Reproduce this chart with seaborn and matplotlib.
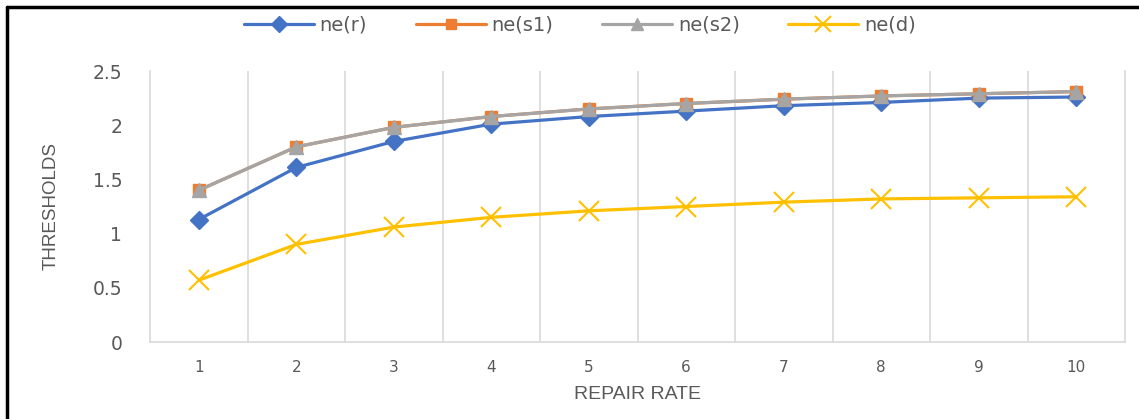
import matplotlib
matplotlib.use("Agg")
import matplotlib.pyplot as plt
from matplotlib.lines import Line2D
import seaborn as sns
import pandas as pd

# Repair rate categories and threshold series
repair_rate = [1, 2, 3, 4, 5, 6, 7, 8, 9, 10]
ne_r = [1.13, 1.61, 1.85, 2.01, 2.08, 2.13, 2.18, 2.21, 2.25, 2.26]
ne_s1 = [1.40, 1.80, 1.98, 2.08, 2.15, 2.20, 2.24, 2.27, 2.29, 2.31]
ne_s2 = [1.40, 1.80, 1.98, 2.08, 2.15, 2.20, 2.24, 2.27, 2.29, 2.31]
ne_d = [0.57, 0.90, 1.06, 1.15, 1.21, 1.25, 1.29, 1.32, 1.33, 1.34]
series_names = ["ne(r)", "ne(s1)", "ne(s2)", "ne(d)"]
y_ticks = [0, 0.5, 1, 1.5, 2, 2.5]
y_tick_labels = ["0", "0.5", "1", "1.5", "2", "2.5"]

df = pd.DataFrame({"rate": repair_rate, "ne(r)": ne_r, "ne(s1)": ne_s1,
                   "ne(s2)": ne_s2, "ne(d)": ne_d})

sns.set_theme(style="white")
plt.rcParams["font.family"] = ["Liberation Sans", "DejaVu Sans"]

styles = {
    "ne(r)": dict(color="#4472C4", marker="D", ms=9, mec="#4472C4", mew=1),
    "ne(s1)": dict(color="#ED7D31", marker="s", ms=9, mec="#ED7D31", mew=1),
    "ne(s2)": dict(color="#A5A5A5", marker="^", ms=10, mec="#A5A5A5", mew=1),
    "ne(d)": dict(color="#FFC000", marker="x", ms=14, mec="#FFC000", mew=1.5),
}

fig = plt.figure(figsize=(11.39, 4.19), dpi=100)
ax = fig.add_axes([150 / 1139, 1 - 342 / 419, (1125 - 150) / 1139, (342 - 71) / 419])

for name in series_names:
    st = styles[name]
    sns.lineplot(data=df, x="rate", y=name, ax=ax, color=st["color"],
                 marker=st["marker"], markersize=st["ms"],
                 markeredgecolor=st["mec"], markeredgewidth=st["mew"],
                 markerfacecolor=st["color"], linewidth=2.3, label=name,
                 legend=False)

ax.set_xlim(0.5, 10.5)
ax.set_ylim(0, 2.5)
ax.set_xticks(repair_rate)
ax.set_xticklabels([str(v) for v in repair_rate])
ax.set_yticks(y_ticks)
ax.set_yticklabels(y_tick_labels)
ax.tick_params(axis="x", length=0, pad=13, labelsize=11, labelcolor="#595959")
ax.tick_params(axis="y", length=0, pad=20, labelsize=13.5, labelcolor="#595959")
for lbl in ax.get_xticklabels() + ax.get_yticklabels():
    lbl.set_family(["DejaVu Sans"])

# Category separators
for xv in [v + 0.5 for v in repair_rate[:-1]]:
    ax.axvline(xv, color="#D9D9D9", lw=1.2, zorder=0)
for side in ["left", "right", "bottom"]:
    ax.spines[side].set_visible(True)
    ax.spines[side].set_color("#D9D9D9")
    ax.spines[side].set_linewidth(1.2)
ax.spines["top"].set_visible(False)

ax.set_xlabel("REPAIR RATE", fontsize=14, color="#595959", labelpad=8)
ax.set_ylabel("THRESHOLDS", fontsize=13.5, color="#595959", labelpad=24)

handles = []
for name in series_names:
    st = styles[name]
    handles.append(Line2D([0], [0], color=st["color"], lw=2.3, marker=st["marker"],
                          markersize=st["ms"] * 0.85, markerfacecolor=st["color"],
                          markeredgecolor=st["mec"], markeredgewidth=st["mew"]))
fig.legend(handles, series_names, loc="center", bbox_to_anchor=(580 / 1139, 1 - 25 / 419),
           ncol=4, frameon=False, handlelength=3.6, handletextpad=0.3,
           columnspacing=2.5, prop={"family": ["DejaVu Sans"], "size": 14},
           labelcolor="#595959")

# Outer border (left and top)
fig.add_artist(Line2D([7 / 1139, 7 / 1139], [0, 1 - 7 / 419], transform=fig.transFigure,
                      color="black", lw=2.5))
fig.add_artist(Line2D([7 / 1139, 1], [1 - 7 / 419, 1 - 7 / 419], transform=fig.transFigure,
                      color="black", lw=2.5))

fig.savefig("out.png", dpi=100, facecolor="white")
